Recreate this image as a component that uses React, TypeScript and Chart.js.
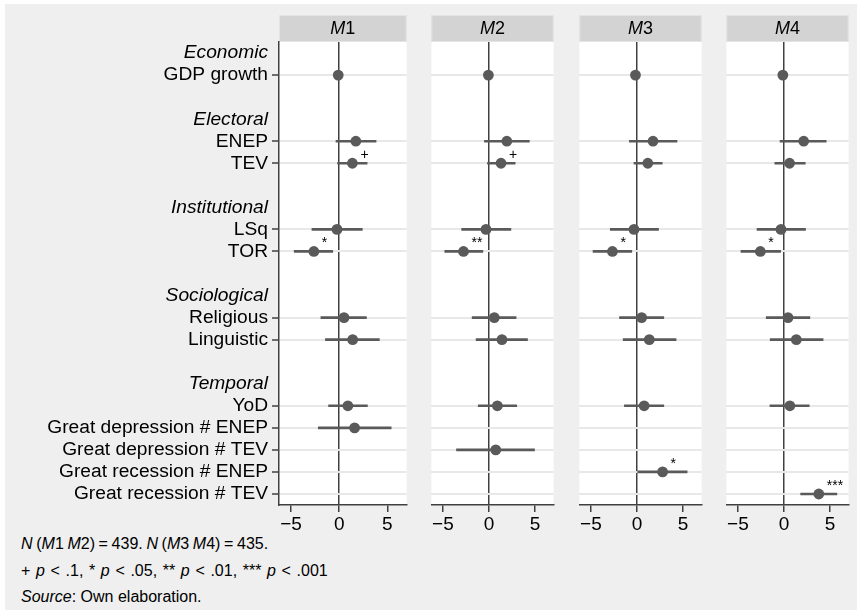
import React, { useEffect, useRef } from 'react';
import { Chart, registerables } from 'chart.js';

Chart.register(...registerables);

// ---------- data ----------
const modelNames = ['M1', 'M2', 'M3', 'M4'];

const rowLabels = [
  'Economic', 'GDP growth', '',
  'Electoral', 'ENEP', 'TEV', '',
  'Institutional', 'LSq', 'TOR', '',
  'Sociological', 'Religious', 'Linguistic', '',
  'Temporal', 'YoD', 'Great depression # ENEP', 'Great depression # TEV',
  'Great recession # ENEP', 'Great recession # TEV',
];

const groupLabels = ['Economic', 'Electoral', 'Institutional', 'Sociological', 'Temporal'];

const variables = [
  'GDP growth', 'ENEP', 'TEV', 'LSq', 'TOR', 'Religious', 'Linguistic', 'YoD',
  'Great depression # ENEP', 'Great depression # TEV', 'Great recession # ENEP', 'Great recession # TEV',
];

const m1Coef = [-0.1, 1.73, 1.37, -0.23, -2.63, 0.5, 1.4, 0.9, 1.6, null, null, null];
const m1Lo = [-0.25, -0.33, -0.17, -2.83, -4.67, -1.9, -1.43, -1.1, -2.17, null, null, null];
const m1Hi = [0.05, 3.83, 2.9, 2.4, -0.67, 2.83, 4.17, 2.93, 5.4, null, null, null];
const m1Sig = ['', '', '+', '', '*', '', '', '', '', '', '', ''];

const m2Coef = [-0.07, 1.93, 1.3, -0.33, -2.77, 0.57, 1.4, 0.9, null, 0.73, null, null];
const m2Lo = [-0.2, -0.5, -0.17, -2.97, -4.8, -1.83, -1.4, -1.17, null, -3.53, null, null];
const m2Hi = [0.05, 4.37, 2.83, 2.37, -0.67, 2.93, 4.17, 3.0, null, 4.93, null, null];
const m2Sig = ['', '', '+', '', '**', '', '', '', '', '', '', ''];

const m3Coef = [-0.17, 1.73, 1.17, -0.33, -2.67, 0.5, 1.33, 0.77, null, null, 2.77, null];
const m3Lo = [-0.3, -0.83, -0.33, -2.9, -4.77, -1.9, -1.5, -1.37, null, null, 0.07, null];
const m3Hi = [0.0, 4.33, 2.73, 2.33, -0.57, 2.9, 4.23, 2.9, null, null, 5.43, null];
const m3Sig = ['', '', '', '', '*', '', '', '', '', '', '*', ''];

const m4Coef = [-0.13, 2.13, 0.6, -0.33, -2.57, 0.43, 1.33, 0.63, null, null, null, 3.77];
const m4Lo = [-0.27, -0.43, -1.0, -2.93, -4.67, -1.93, -1.5, -1.53, null, null, null, 1.8];
const m4Hi = [0.0, 4.57, 2.3, 2.33, -0.37, 2.8, 4.23, 2.73, null, null, null, 5.73];
const m4Sig = ['', '', '', '', '*', '', '', '', '', '', '', '***'];

const xTicks = [-5, 0, 5];
const xMin = -6.25;
const xMax = 7;

const modelData = [
  { coef: m1Coef, lo: m1Lo, hi: m1Hi, sig: m1Sig },
  { coef: m2Coef, lo: m2Lo, hi: m2Hi, sig: m2Sig },
  { coef: m3Coef, lo: m3Lo, hi: m3Hi, sig: m3Sig },
  { coef: m4Coef, lo: m4Lo, hi: m4Hi, sig: m4Sig },
];

// ---------- style ----------
const FONT = '"Liberation Sans", Arial, Helvetica, sans-serif';
const DARK = '#404040';
const MARK = '#5a5a5a';
const BG = '#efefef';
const panelLefts = [279, 426, 574, 721];
const panelWidth = 133;
const yAxisWidth = 279;
const canvasHeight = 530;

function Panel({ index }: { index: number }) {
  const ref = useRef<HTMLCanvasElement | null>(null);
  const first = index === 0;
  const left = first ? 0 : panelLefts[index];
  const width = first ? yAxisWidth + panelWidth : panelWidth;

  useEffect(() => {
    const md = modelData[index];
    const barData = rowLabels.map((lab) => {
      const j = variables.indexOf(lab);
      if (j < 0 || md.lo[j] == null || md.hi[j] == null) return null;
      return [md.lo[j] as number, md.hi[j] as number];
    });
    const points: { x: number; y: string }[] = [];
    const sigs: string[] = [];
    variables.forEach((v, j) => {
      if (md.coef[j] != null) {
        points.push({ x: md.coef[j] as number, y: v });
        sigs.push(md.sig[j]);
      }
    });
    const name = modelNames[index];

    const deco = {
      id: 'deco',
      beforeDraw(chart: any) {
        const { ctx, chartArea: a } = chart;
        ctx.save();
        ctx.fillStyle = '#ffffff';
        ctx.fillRect(a.left, a.top, a.right - a.left, a.bottom - a.top);
        // header strip
        const w = a.right - a.left;
        ctx.fillStyle = '#d3d3d3';
        ctx.fillRect(a.left, 15, w, 27);
        ctx.strokeStyle = '#e1e5e6';
        ctx.lineWidth = 1;
        ctx.strokeRect(a.left + 0.5, 15.5, w - 1, 26);
        const letter = name.slice(0, 1);
        const num = name.slice(1);
        ctx.font = `italic 18px ${FONT}`;
        const wl = ctx.measureText(letter).width;
        ctx.font = `18px ${FONT}`;
        const wn = ctx.measureText(num).width;
        const x0 = (a.left + a.right) / 2 - (wl + wn) / 2;
        ctx.fillStyle = '#000';
        ctx.textBaseline = 'middle';
        ctx.textAlign = 'left';
        ctx.font = `italic 18px ${FONT}`;
        ctx.fillText(letter, x0, 29);
        ctx.font = `18px ${FONT}`;
        ctx.fillText(num, x0 + wl, 29);
        ctx.restore();
      },
      afterDatasetsDraw(chart: any) {
        const { ctx } = chart;
        const meta = chart.getDatasetMeta(1);
        ctx.save();
        ctx.fillStyle = '#000';
        ctx.font = `14px ${FONT}`;
        ctx.textAlign = 'left';
        ctx.textBaseline = 'alphabetic';
        meta.data.forEach((el: any, k: number) => {
          const s = sigs[k];
          if (!s) return;
          ctx.fillText(s, el.x + 8, el.y - 4);
        });
        ctx.restore();
      },
    };

    const chart = new Chart(ref.current as HTMLCanvasElement, {
      type: 'scatter',
      data: {
        labels: rowLabels,
        datasets: [
          {
            type: 'bar',
            indexAxis: 'y',
            data: barData as any,
            backgroundColor: MARK,
            borderWidth: 0,
            barThickness: 2,
          } as any,
          {
            type: 'scatter',
            data: points as any,
            pointRadius: 5.4,
            pointHoverRadius: 5.4,
            pointBackgroundColor: MARK,
            pointBorderWidth: 0,
            borderWidth: 0,
          } as any,
        ],
      },
      plugins: [deco],
      options: {
        animation: false,
        responsive: false,
        maintainAspectRatio: false,
        layout: { padding: { top: 42, bottom: 0, left: 0, right: 0 } },
        plugins: {
          legend: { display: false },
          tooltip: { enabled: false },
          title: { display: false },
        },
        scales: {
          x: {
            type: 'linear',
            min: xMin,
            max: xMax,
            offset: false,
            beginAtZero: false,
            afterBuildTicks: (scale: any) => {
              scale.ticks = xTicks.map((v) => ({ value: v }));
            },
            afterFit: (scale: any) => {
              scale.height = 25;
            },
            grid: {
              offset: false,
              color: (ctx: any) => (ctx.tick && ctx.tick.value === 0 ? DARK : 'rgba(0,0,0,0)'),
              lineWidth: 1.5,
              tickColor: DARK,
              tickLength: 7,
              drawOnChartArea: true,
            },
            border: { display: true, color: DARK, width: 1.5 },
            ticks: {
              color: '#000',
              padding: 1,
              maxRotation: 0,
              font: { family: FONT, size: 19 },
              callback: (v: any) => (Number(v) < 0 ? '\u2212' + Math.abs(Number(v)) : String(v)),
            },
          },
          y: {
            type: 'category',
            labels: rowLabels,
            offset: true,
            afterFit: (scale: any) => {
              scale.width = first ? yAxisWidth : 0;
            },
            grid: {
              offset: false,
              color: (ctx: any) =>
                variables.includes(rowLabels[ctx.index]) ? '#e8e8e8' : 'rgba(0,0,0,0)',
              lineWidth: 2,
              tickColor: (ctx: any) =>
                variables.includes(rowLabels[ctx.index]) ? DARK : 'rgba(0,0,0,0)',
              tickWidth: 1.5,
              tickLength: 7,
              drawTicks: first,
            },
            border: { display: first, color: DARK, width: 1.5 },
            ticks: {
              display: first,
              autoSkip: false,
              color: '#000',
              padding: 4,
              font: (ctx: any) => ({
                family: FONT,
                size: 19.2,
                style: groupLabels.includes(rowLabels[ctx.index]) ? 'italic' : 'normal',
              }),
            },
          },
        },
      } as any,
    });
    return () => chart.destroy();
  }, [index]);

  return (
    <canvas
      ref={ref}
      width={width}
      height={canvasHeight}
      style={{ position: 'absolute', left, top: 0, width, height: canvasHeight }}
    />
  );
}

const noteStyle: React.CSSProperties = {
  position: 'absolute',
  left: 21,
  fontFamily: FONT,
  fontSize: 16,
  color: '#000',
  lineHeight: '27px',
  whiteSpace: 'nowrap',
};

export default function App() {
  return (
    <div style={{ position: 'fixed', left: 0, top: 0, width: 857, height: 610, background: '#ffffff', overflow: 'hidden' }}>
      <div style={{ position: 'absolute', left: 5, top: 4, width: 852, height: 606, background: BG }} />
      {modelNames.map((_, i) => (
        <Panel key={i} index={i} />
      ))}
      <div style={{ ...noteStyle, top: 530, wordSpacing: '-0.8px' }}>
        <i>N</i> (<i>M</i>1 <i>M</i>2) = 439. <i>N</i> (<i>M</i>3 <i>M</i>4) = 435.
      </div>
      <div style={{ ...noteStyle, top: 557, wordSpacing: '1.2px' }}>
        + <i>p</i> &lt; .1, * <i>p</i> &lt; .05, ** <i>p</i> &lt; .01, *** <i>p</i> &lt; .001
      </div>
      <div style={{ ...noteStyle, top: 583 }}>
        <i>Source</i>: Own elaboration.
      </div>
    </div>
  );
}
